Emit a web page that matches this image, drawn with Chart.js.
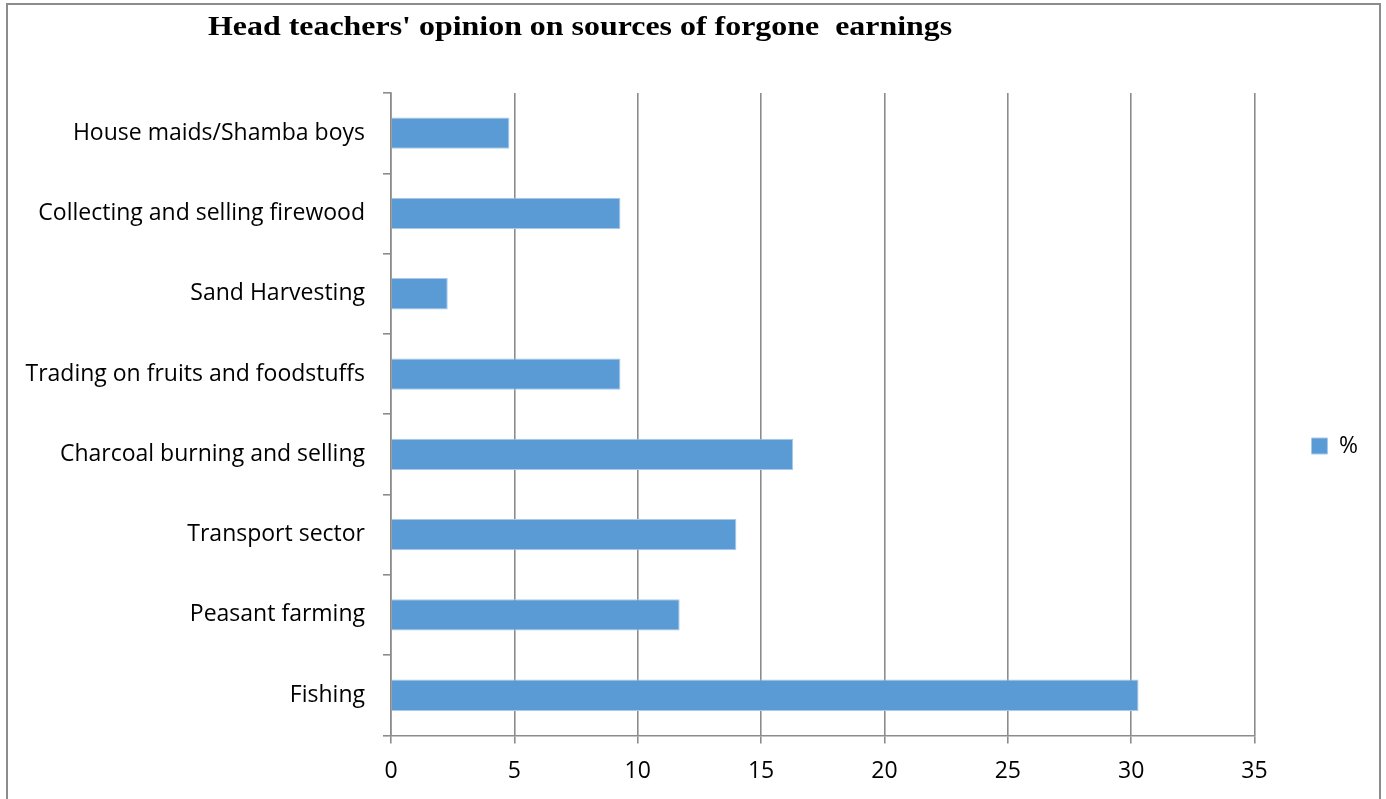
<!DOCTYPE html>
<html>
<head>
<meta charset="utf-8">
<script src="https://cdn.jsdelivr.net/npm/chart.js@4.4.1/dist/chart.umd.min.js"></script>
<style>
  html, body { margin: 0; padding: 0; background: #fff; overflow: hidden; }
  #wrap { position: relative; width: 1386px; height: 799px; }
  #frame { position: absolute; left: 6px; top: 3px; width: 1371px; height: 820px; border: 2px solid #8c8c8c; }
  #my-chart { position: absolute; left: 0; top: 0; }
</style>
</head>
<body>
<div id="wrap">
  <div id="frame"></div>
  <canvas id="my-chart" width="1386" height="799"></canvas>
</div>
<script>
const title = "Head teachers' opinion on sources of forgone  earnings";

const labels = [
  'House maids/Shamba boys',
  'Collecting and selling firewood',
  'Sand Harvesting',
  'Trading on fruits and foodstuffs',
  'Charcoal burning and selling',
  'Transport sector',
  'Peasant farming',
  'Fishing',
];

const percent = [4.8, 9.3, 2.3, 9.3, 16.3, 14.0, 11.7, 30.3];

const xTicks = [0, 5, 10, 15, 20, 25, 30, 35];

const gridColor = '#8c8c8c';
const labelFont = { family: 'Open Sans', size: 23 };

Chart.register({
  id: 'custom_title',
  afterDraw: (chart) => {
    const ctx = chart.ctx;
    ctx.save();
    ctx.font = 'bold 28px "Liberation Serif"';
    ctx.fillStyle = '#000';
    ctx.textAlign = 'left';
    ctx.textBaseline = 'alphabetic';
    // the original title is a bit wider than the plain font
    ctx.translate(208, 35);
    ctx.scale(1.14, 1);
    ctx.fillText(title, 0, 0);
    ctx.restore();
  }
});

const data = {
  labels: labels,
  datasets: [{
    label: '%',
    data: percent,
    backgroundColor: '#5b9bd5',
    borderColor: '#a9c8ea',
    borderWidth: 1,
    barPercentage: 0.39,
    categoryPercentage: 1,
  }]
};

const config = {
  type: 'bar',
  data,
  options: {
    indexAxis: 'y',
    responsive: false,
    animation: false,
    layout: {
      padding: { top: 93, right: 18, bottom: 0, left: 0 }
    },
    scales: {
      x: {
        min: 0,
        max: 35,
        afterBuildTicks: (scale) => {
          scale.ticks = xTicks.map(v => ({ value: v }));
        },
        ticks: {
          color: '#000',
          font: labelFont,
          padding: 14,
          maxRotation: 0,
        },
        grid: {
          color: gridColor,
          lineWidth: 1.6,
          tickLength: 8,
        },
        border: { color: gridColor, width: 1.6 },
      },
      y: {
        afterFit: (scale) => { scale.width = 391; },
        ticks: {
          color: '#000',
          font: labelFont,
          padding: 18,
        },
        grid: {
          offset: true,
          drawOnChartArea: false,
          color: gridColor,
          lineWidth: 1.6,
          tickLength: 8,
        },
        border: { color: gridColor, width: 1.6 },
      }
    },
    plugins: {
      legend: {
        position: 'right',
        labels: {
          boxWidth: 16,
          boxHeight: 16,
          padding: 57,
          color: '#000',
          font: labelFont,
        }
      },
      tooltip: { enabled: false }
    }
  }
};

let myChart = new Chart(document.getElementById('my-chart'), config);
</script>
</body>
</html>
